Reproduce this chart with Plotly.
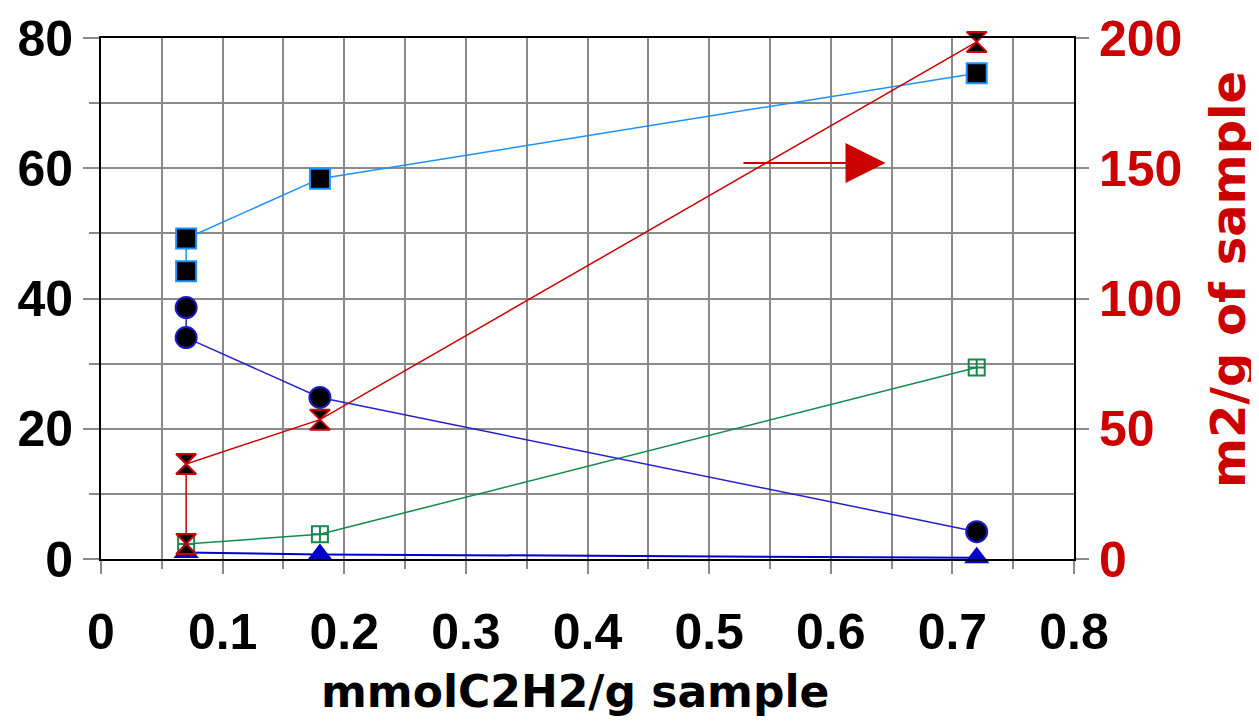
import plotly.graph_objects as go

# ---- data ----
x_sq = [0.07, 0.07, 0.18, 0.72]
y_sq = [44.2, 49.2, 58.4, 74.6]

x_circ = [0.07, 0.07, 0.18, 0.72]
y_circ = [38.6, 34.0, 24.8, 4.2]

x_green = [0.07, 0.18, 0.72]
y_green = [2.3, 3.8, 29.4]

x_tri = [0.07, 0.18, 0.72]
y_tri = [1.0, 0.7, 0.2]

x_red = [0.07, 0.07, 0.18, 0.72]
y_red = [5.8, 36.5, 53.5, 198.5]  # right axis, m2/g of sample

x_tickvals = [0, 0.1, 0.2, 0.3, 0.4, 0.5, 0.6, 0.7, 0.8]
x_ticktext = ["0", "0.1", "0.2", "0.3", "0.4", "0.5", "0.6", "0.7", "0.8"]

x_title = "mmolC2H2/g sample"
y2_title = "m2/g of sample"

FONT = "Liberation Sans, Arial, sans-serif"
TFONT = "DejaVu Sans, Verdana, sans-serif"
RED = "#CC0000"
GRID = "#8a8a8a"

fig = go.Figure()

fig.add_trace(go.Scatter(
    x=x_green, y=y_green, mode="lines+markers",
    line=dict(color="#128a4a", width=1.5),
    marker=dict(symbol="square-cross-open", size=16, color="#128a4a",
                line=dict(width=2, color="#128a4a")),
    cliponaxis=False, showlegend=False))

fig.add_trace(go.Scatter(
    x=x_tri, y=y_tri, mode="lines+markers",
    line=dict(color="#0000CC", width=2),
    marker=dict(symbol="triangle-up", size=22, color="#0000CC",
                line=dict(width=0)),
    cliponaxis=False, showlegend=False))

fig.add_trace(go.Scatter(
    x=x_circ, y=y_circ, mode="lines+markers",
    line=dict(color="#2222CC", width=1.5),
    marker=dict(symbol="circle", size=21, color="black",
                line=dict(width=2, color="#1a1acc")),
    cliponaxis=False, showlegend=False))

fig.add_trace(go.Scatter(
    x=x_sq, y=y_sq, mode="lines+markers",
    line=dict(color="#1e90ff", width=1.5),
    marker=dict(symbol="square", size=20, color="black",
                line=dict(width=2, color="#1e90ff")),
    cliponaxis=False, showlegend=False))

fig.add_trace(go.Scatter(
    x=x_red, y=y_red, yaxis="y2", mode="lines+markers",
    line=dict(color=RED, width=1.5),
    marker=dict(symbol="hourglass", size=20, color="black",
                line=dict(width=2, color=RED)),
    cliponaxis=False, showlegend=False))

# arrow pointing toward the right axis
fig.add_annotation(
    x=0.645, y=152, xref="x", yref="y2",
    ax=0.527, ay=152, axref="x", ayref="y2",
    text="", showarrow=True, arrowhead=2, arrowsize=4, arrowwidth=2,
    arrowcolor=RED, standoff=0)

# axis titles
fig.add_annotation(
    text=x_title, xref="paper", yref="paper", x=0.487, y=-0.255,
    xanchor="center", yanchor="middle", showarrow=False,
    font=dict(family=TFONT, size=44, color="black", weight="bold"))
fig.add_annotation(
    text=y2_title, xref="paper", yref="paper", x=1.159, y=0.537,
    xanchor="center", yanchor="middle", showarrow=False, textangle=-90,
    font=dict(family=TFONT, size=48, color=RED, weight="bold"))

tickfont = dict(family=FONT, size=50, color="black", weight="bold")

fig.update_layout(
    width=1259, height=721,
    margin=dict(l=93, r=193, t=30, b=170),
    paper_bgcolor="white", plot_bgcolor="white",
    font=dict(family=FONT),
    xaxis=dict(
        range=[0, 0.8], tickvals=x_tickvals, ticktext=x_ticktext, tickangle=0,
        automargin=False,
        showgrid=True, gridcolor=GRID, gridwidth=2,
        showline=True, linecolor="black", linewidth=2, mirror=True,
        ticks="outside", ticklen=13, tickwidth=2, tickcolor=GRID,
        ticklabelstandoff=15,
        minor=dict(dtick=0.05, tick0=0, showgrid=True, gridcolor=GRID, gridwidth=2,
                   ticks="outside", ticklen=8, tickwidth=2, tickcolor=GRID),
        tickfont=tickfont, zeroline=False,
    ),
    yaxis=dict(
        range=[0, 80], dtick=20, tick0=0, automargin=False,
        showgrid=True, gridcolor=GRID, gridwidth=2,
        showline=True, linecolor="black", linewidth=2,
        ticks="outside", ticklen=16, tickwidth=2, tickcolor=GRID,
        minor=dict(dtick=10, showgrid=True, gridcolor=GRID, gridwidth=2,
                   ticks="outside", ticklen=10, tickwidth=2, tickcolor=GRID),
        tickfont=tickfont, zeroline=False,
    ),
    yaxis2=dict(
        range=[0, 200], dtick=50, tick0=0, overlaying="y", side="right",
        automargin=False,
        showgrid=False, showline=True, linecolor="black", linewidth=2,
        ticks="outside", ticklen=13, tickwidth=2, tickcolor=GRID,
        tickfont=dict(family=FONT, size=50, color=RED, weight="bold"),
        zeroline=False,
    ),
)

fig.write_html("out.html")
